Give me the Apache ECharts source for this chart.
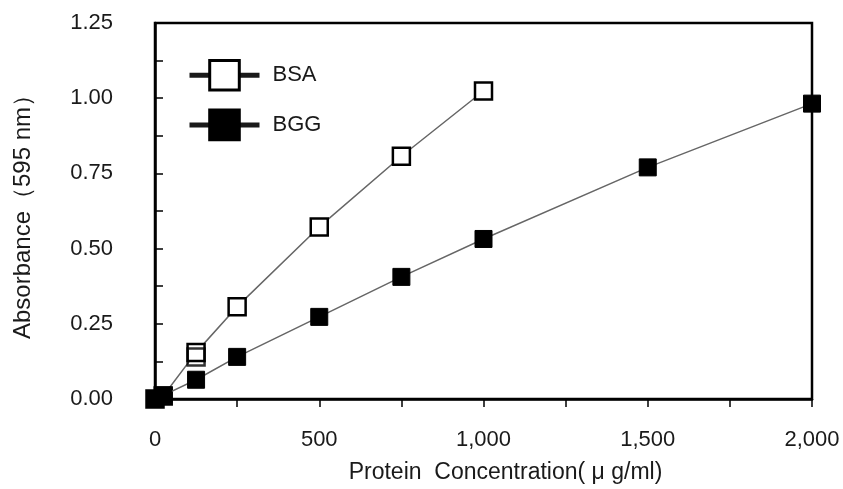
<!DOCTYPE html>
<html>
<head>
<meta charset="utf-8">
<script src="https://cdn.jsdelivr.net/npm/echarts@6/dist/echarts.min.js"></script>
<style>
  html, body { margin: 0; padding: 0; background: #fff; }
  #chart { width: 843px; height: 489px; }
</style>
</head>
<body>
<div id="chart"></div>
<script>
// 数据
const bsaX = [0, 25, 125, 250, 500, 750, 1000]
const bsaY = [0, 0.01, 0.155, 0.307, 0.572, 0.807, 1.024]
// 125 处重叠的第二个点
const bsaRepX = [125]
const bsaRepY = [0.14]
const bggX = [0, 25, 125, 250, 500, 750, 1000, 1500, 2000]
const bggY = [0, 0.012, 0.064, 0.14, 0.273, 0.406, 0.532, 0.77, 0.982]

const pair = (xs, ys) => xs.map((x, i) => [x, ys[i]])

const font = 'Liberation Sans, Arial, sans-serif'
const textColor = '#1a1a1a'

const myChart = echarts.init(document.getElementById('chart'))
const option = {
  animation: false,
  grid: {
    left: 155,
    right: 31,
    top: 23,
    bottom: 90,
    show: true,
    borderColor: '#000',
    borderWidth: 2.5,
  },
  legend: {
    orient: 'vertical',
    left: 187,
    top: 59,
    padding: 0,
    itemWidth: 70,
    itemHeight: 37,
    itemGap: 17,
    data: ['BSA', 'BGG'],
    lineStyle: { width: 5, color: '#1a1a1a' },
    itemStyle: { borderWidth: 3, borderColor: '#000' },
    textStyle: {
      fontFamily: font,
      fontSize: 22,
      color: textColor,
      padding: [0, 0, 0, 8],
    },
  },
  xAxis: {
    type: 'value',
    min: 0,
    max: 2000,
    interval: 250,
    name: 'Protein  Concentration( μ g/ml)',
    nameLocation: 'middle',
    nameGap: 62,
    nameTextStyle: {
      fontFamily: font,
      fontSize: 23,
      color: textColor,
      padding: [0, 0, 0, 44],
    },
    axisLine: { lineStyle: { color: '#000', width: 2.5 } },
    axisTick: { inside: false, length: 8, lineStyle: { color: '#000', width: 1.5 } },
    splitLine: { show: false },
    axisLabel: {
      margin: 30,
      fontFamily: font,
      fontSize: 22,
      color: textColor,
      formatter: v => (v % 500 === 0 ? v.toLocaleString('en-US') : ''),
    },
  },
  yAxis: {
    type: 'value',
    min: 0,
    max: 1.25,
    interval: 0.125,
    name: 'Absorbance（595 nm）',
    nameLocation: 'middle',
    nameGap: 120,
    nameTextStyle: {
      fontFamily: font,
      fontSize: 24,
      color: textColor,
    },
    axisLine: { lineStyle: { color: '#000', width: 2.5 } },
    axisTick: { inside: true, length: 8, lineStyle: { color: '#000', width: 1.5 } },
    splitLine: { show: false },
    axisLabel: {
      margin: 42,
      fontFamily: font,
      fontSize: 22,
      color: textColor,
      formatter: v => (Math.round(v * 1000) % 250 === 0 ? v.toFixed(2) : ''),
    },
  },
  series: [
    {
      name: 'BSA',
      type: 'line',
      data: pair(bsaX, bsaY),
      symbol: 'rect',
      symbolSize: 17,
      lineStyle: { color: '#666', width: 1.5 },
      itemStyle: { color: '#fff', borderColor: '#000', borderWidth: 2.5 },
      z: 2,
    },
    {
      name: 'BSA',
      type: 'scatter',
      data: pair(bsaRepX, bsaRepY),
      symbol: 'rect',
      symbolSize: 17,
      itemStyle: { color: 'rgba(255,255,255,0)', borderColor: '#000', borderWidth: 2.5 },
      z: 2,
    },
    {
      name: 'BGG',
      type: 'line',
      data: pair(bggX, bggY),
      symbol: 'rect',
      symbolSize: 17,
      lineStyle: { color: '#666', width: 1.5 },
      itemStyle: { color: '#000', borderColor: '#000', borderWidth: 1 },
      z: 3,
    },
  ],
}
myChart.setOption(option, true)
</script>
</body>
</html>
